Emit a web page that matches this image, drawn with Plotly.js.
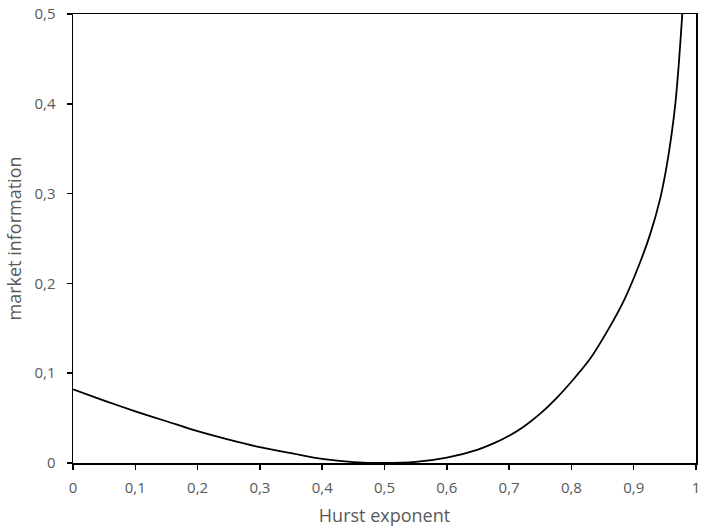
<!DOCTYPE html>
<html>
<head>
<meta charset="utf-8">
<script src="https://cdn.plot.ly/plotly-3.0.1.min.js"></script>
<style>
  body { margin: 0; background: #fff; }
  #chart { width: 707px; height: 531px; }
</style>
</head>
<body>
<div id="chart"></div>
<script>
// values
const hurst = [0, 0.05, 0.1, 0.15, 0.2, 0.25, 0.3, 0.35, 0.4, 0.45, 0.5,
  0.55, 0.6, 0.65, 0.675, 0.7, 0.725, 0.75, 0.775, 0.8, 0.83, 0.859, 0.885,
  0.91, 0.927, 0.942, 0.952, 0.961, 0.967, 0.972, 0.978, 0.985];
const marketInfo = [0.082, 0.0695, 0.0576, 0.0465, 0.0354, 0.026, 0.0176,
  0.011, 0.0045, 0.001, 0, 0.0012, 0.006, 0.015, 0.0218, 0.0303, 0.0413,
  0.055, 0.0715, 0.0905, 0.116, 0.1485, 0.182, 0.223, 0.256, 0.293, 0.327,
  0.367, 0.401, 0.441, 0.5, 0.58];

const xTicks = [0, 0.1, 0.2, 0.3, 0.4, 0.5, 0.6, 0.7, 0.8, 0.9, 1];
const yTicks = [0, 0.1, 0.2, 0.3, 0.4, 0.5];

const greyText = '#595959';
const fontName = 'Open Sans, sans-serif';

const trace = {
  x: hurst,
  y: marketInfo,
  type: 'scatter',
  mode: 'lines',
  line: { color: '#000000', width: 1.8, shape: 'spline', smoothing: 0.8 },
  hoverinfo: 'skip'
};

const layout = {
  width: 707,
  height: 531,
  separators: ', ',
  margin: { l: 73, r: 11, t: 14, b: 68 },
  paper_bgcolor: '#ffffff',
  plot_bgcolor: '#ffffff',
  showlegend: false,
  font: { family: fontName, size: 15, color: greyText },
  xaxis: {
    range: [0, 1],
    tickvals: xTicks,
    showgrid: false,
    zeroline: false,
    showline: true,
    mirror: true,
    linecolor: '#000000',
    linewidth: 1.5,
    ticks: 'outside',
    ticklen: 5,
    tickwidth: 1.5,
    tickcolor: '#000000',
    ticklabelstandoff: 5,
    tickfont: { family: fontName, size: 15, color: greyText },
    title: {
      text: 'Hurst exponent',
      font: { family: fontName, size: 18, color: greyText },
      standoff: 14
    }
  },
  yaxis: {
    range: [0, 0.5],
    tickvals: yTicks,
    showgrid: false,
    zeroline: false,
    showline: true,
    mirror: true,
    linecolor: '#000000',
    linewidth: 1.5,
    ticks: 'outside',
    ticklen: 5,
    tickwidth: 1.5,
    tickcolor: '#000000',
    ticklabelstandoff: 8,
    tickfont: { family: fontName, size: 15, color: greyText },
    title: {
      text: 'market information',
      font: { family: fontName, size: 18, color: greyText },
      standoff: 8
    }
  }
};

Plotly.newPlot('chart', [trace], layout, { displayModeBar: false, staticPlot: true });
</script>
</body>
</html>
